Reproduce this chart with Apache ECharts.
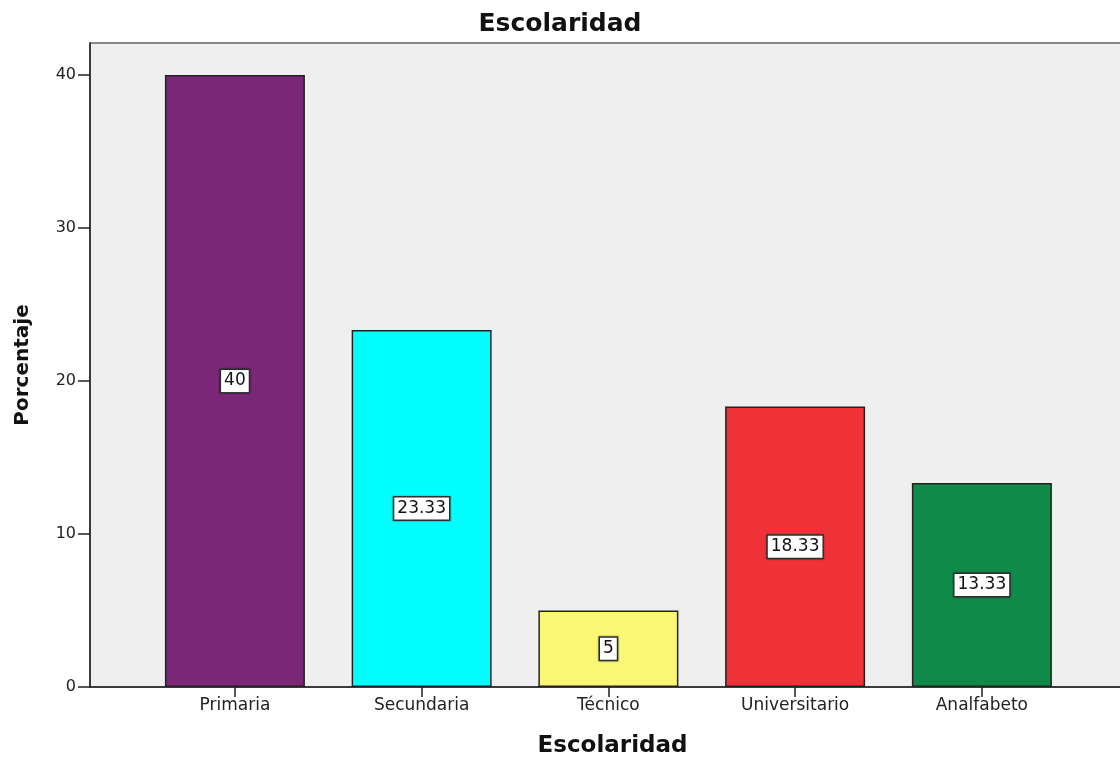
<!DOCTYPE html>
<html>
<head>
    <meta charset="utf-8">
    <title>Escolaridad</title>
    <script src="https://cdn.jsdelivr.net/npm/echarts@6/dist/echarts.min.js"></script>
    <style>
        html, body { margin: 0; padding: 0; background: #fff; }
    </style>
</head>
<body>
    <div id="main" style="width: 1120px;height:759px;"></div>
    <script type="text/javascript">

// datos
var categorias = ['Primaria', 'Secundaria', 'Técnico', 'Universitario', 'Analfabeto'];
var porcentajes = [40, 23.33, 5, 18.33, 13.33];
var colores = ['#7a2777', '#00ffff', '#faf775', '#ef3238', '#108a48'];
var ticksY = [0, 10, 20, 30, 40];
var posiciones = [0, 1, 2, 3, 4];

var myChart = echarts.init(document.getElementById('main'));

var datos = porcentajes.map(function (v, i) {
    return {
        value: [posiciones[i], v],
        itemStyle: { color: colores[i] }
    };
});

var fuente = 'DejaVu Sans, Verdana, sans-serif';

var option = {
    backgroundColor: '#ffffff',
    animation: false,
    title: {
        text: 'Escolaridad',
        left: 'center',
        top: 7,
        textStyle: {
            color: '#111',
            fontSize: 25,
            fontWeight: 'bold',
            fontFamily: fuente
        }
    },
    grid: {
        left: 90,
        top: 43,
        bottom: 72,
        width: 1045,
        outerBoundsMode: 'none',
        containLabel: false,
        show: true,
        backgroundColor: '#efefef',
        borderColor: '#888',
        borderWidth: 2
    },
    xAxis: {
        type: 'value',
        min: -0.776,
        max: 4.82,
        name: 'Escolaridad',
        nameLocation: 'middle',
        nameGap: 48,
        nameTextStyle: {
            color: '#111',
            fontSize: 23,
            fontWeight: 'bold',
            fontFamily: fuente
        },
        axisLine: { show: true, onZero: false, lineStyle: { color: '#222', width: 1.5 } },
        axisTick: {
            show: true,
            length: 10,
            customValues: posiciones,
            lineStyle: { color: '#222', width: 1.5 }
        },
        axisLabel: {
            customValues: posiciones,
            formatter: function (v) { return categorias[Math.round(v)]; },
            color: '#222',
            fontSize: 17,
            fontFamily: fuente,
            margin: 10
        },
        splitLine: { show: false }
    },
    yAxis: {
        type: 'value',
        min: 0,
        max: 42.1,
        name: 'Porcentaje',
        nameLocation: 'middle',
        nameGap: 57,
        nameTextStyle: {
            color: '#111',
            fontSize: 20,
            fontWeight: 'bold',
            fontFamily: fuente
        },
        axisLine: { show: true, onZero: false, lineStyle: { color: '#222', width: 1.5 } },
        axisTick: {
            show: true,
            length: 12,
            customValues: ticksY,
            lineStyle: { color: '#222', width: 1.5 }
        },
        axisLabel: {
            customValues: ticksY,
            color: '#222',
            fontSize: 16,
            fontFamily: fuente,
            margin: 14
        },
        splitLine: { show: false }
    },
    series: [{
        type: 'bar',
        barWidth: 140,
        data: datos,
        itemStyle: {
            borderColor: '#222',
            borderWidth: 1.5
        },
        label: {
            show: true,
            position: 'inside',
            formatter: function (p) { return p.value[1]; },
            color: '#111',
            fontSize: 17,
            fontFamily: fuente,
            backgroundColor: '#ffffff',
            borderColor: '#333',
            borderWidth: 1.5,
            padding: [3, 3, 2, 3],
            shadowColor: 'rgba(0,0,0,0.4)',
            shadowBlur: 2
        }
    }]
};

myChart.setOption(option);

    </script>
</body>
</html>
